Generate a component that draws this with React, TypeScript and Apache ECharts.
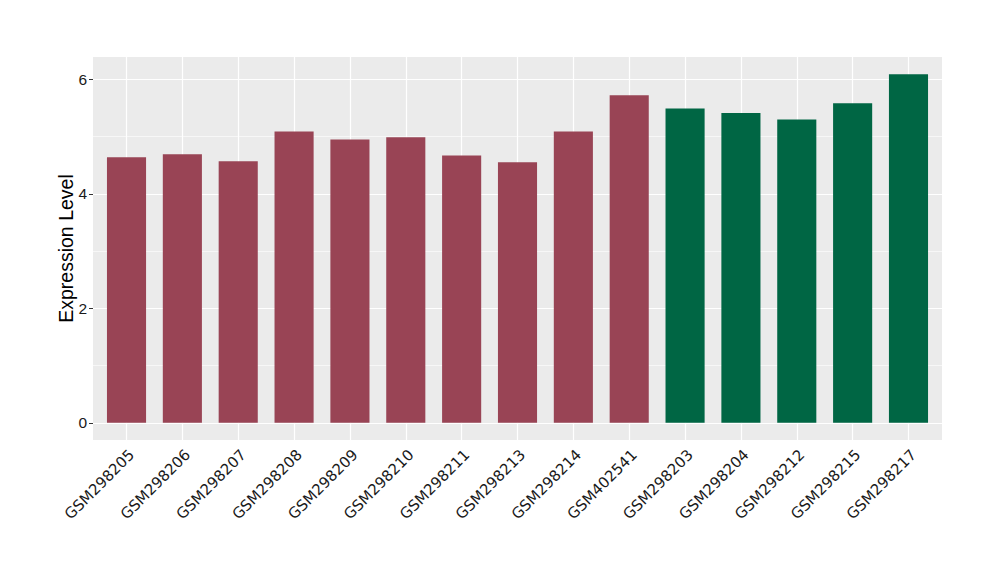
import React, { useEffect, useRef } from "react";
import * as echarts from "echarts";

const categories = [
  "GSM298205", "GSM298206", "GSM298207", "GSM298208", "GSM298209",
  "GSM298210", "GSM298211", "GSM298213", "GSM298214", "GSM402541",
  "GSM298203", "GSM298204", "GSM298212", "GSM298215", "GSM298217",
];
const values = [4.64, 4.69, 4.57, 5.09, 4.95, 4.99, 4.67, 4.55, 5.09, 5.72, 5.49, 5.41, 5.30, 5.58, 6.09];
const groups = ["A", "A", "A", "A", "A", "A", "A", "A", "A", "A", "B", "B", "B", "B", "B"];
const groupColors: Record<string, string> = { A: "#994455", B: "#006644" };
const yTicks = [0, 2, 4, 6];
const yMinor = [1, 3, 5];
const yTitle = "Expression Level";

const SANS = "'Liberation Sans', Arial, sans-serif";
const DEJAVU = "'DejaVu Sans', sans-serif";

const OUTER = { left: 93, right: 58, top: 57, bottom: 140 };
const W = 1000 - OUTER.left - OUTER.right;
// ggplot discrete expansion: 0.6 units each side, i.e. 0.1 unit beyond a band's half-width
const PAD = (W * 0.1) / (categories.length - 1 + 1.2);

export default function App() {
  const ref = useRef<HTMLDivElement>(null);
  useEffect(() => {
    if (!ref.current) return;
    const chart = echarts.init(ref.current, undefined, { renderer: "svg" });
    const yMin = -0.3;
    const yMax = 6.39;
    const hLines: any[] = [
      ...yMinor.map((v) => ({ yAxis: v, lineStyle: { color: "#ffffff", width: 0.6, type: "solid" } })),
      ...yTicks.map((v) => ({ yAxis: v, lineStyle: { color: "#ffffff", width: 1.2, type: "solid" } })),
    ];
    const vLines: any[] = categories.map((c) => ({ xAxis: c, lineStyle: { color: "#ffffff", width: 1.2, type: "solid" } }));
    chart.setOption({
      animation: false,
      backgroundColor: "#ffffff",
      graphic: [
        {
          type: "text",
          x: 66,
          y: (OUTER.top + (580 - OUTER.bottom)) / 2,
          rotation: Math.PI / 2,
          style: {
            text: yTitle,
            fontSize: 19.5,
            fontFamily: SANS,
            fill: "#000000",
            textAlign: "center",
            textVerticalAlign: "middle",
          },
        },
      ],
      grid: [
        { ...OUTER, show: true, backgroundColor: "#EBEBEB", borderWidth: 0 },
        { left: OUTER.left + PAD, right: OUTER.right + PAD, top: OUTER.top, bottom: OUTER.bottom, show: false },
      ],
      xAxis: [
        { type: "value", gridIndex: 0, min: 0, max: 1, show: false },
        {
          type: "category",
          gridIndex: 1,
          data: categories,
          axisLine: { show: false },
          axisTick: { show: true, alignWithLabel: true, length: 4, lineStyle: { color: "#333333" } },
          axisLabel: {
            rotate: 45, fontSize: 15, color: "#1a1a1a", fontFamily: DEJAVU,
            margin: 7, interval: 0, align: "right", verticalAlign: "top",
          },
          splitLine: { show: false },
        },
      ],
      yAxis: [
        {
          type: "value",
          gridIndex: 0,
          min: yMin,
          max: yMax,
          axisLine: { show: false },
          axisTick: { show: true, length: 4, customValues: yTicks, lineStyle: { color: "#333333" } },
          axisLabel: { fontSize: 15.5, color: "#1a1a1a", fontFamily: SANS, margin: 6, customValues: yTicks },
          splitLine: { show: false },
        },
        { type: "value", gridIndex: 1, min: yMin, max: yMax, show: false, splitLine: { show: false } },
      ],
      series: [
        {
          type: "line",
          xAxisIndex: 0,
          yAxisIndex: 0,
          data: [],
          z: 1,
          silent: true,
          markLine: { silent: true, z: 1, symbol: "none", label: { show: false }, animation: false, data: hLines },
        },
        {
          type: "line",
          xAxisIndex: 1,
          yAxisIndex: 1,
          data: [],
          z: 1,
          silent: true,
          markLine: { silent: true, z: 1, symbol: "none", label: { show: false }, animation: false, data: vLines },
        },
        {
          type: "bar",
          xAxisIndex: 1,
          yAxisIndex: 1,
          z: 3,
          barWidth: "70%",
          data: values.map((v, i) => ({ value: v, itemStyle: { color: groupColors[groups[i]] } })),
        },
      ],
    });
    return () => chart.dispose();
  }, []);
  return <div ref={ref} style={{ width: 1000, height: 580, position: "absolute", left: 0, top: 0 }} />;
}
